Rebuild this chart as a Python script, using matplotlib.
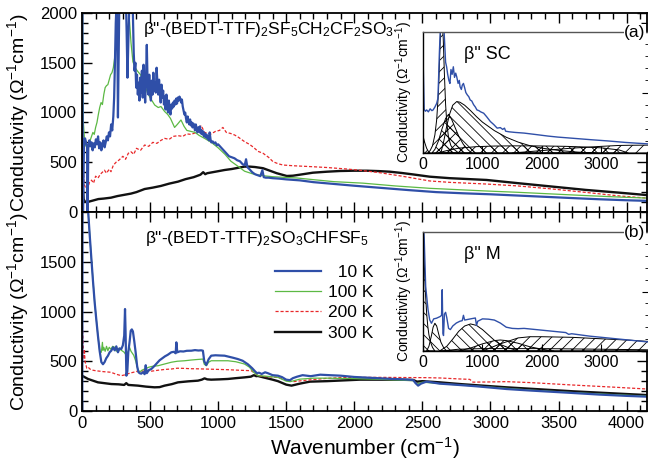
import matplotlib
matplotlib.use("Agg")
import matplotlib.pyplot as plt
from matplotlib.ticker import MultipleLocator, NullFormatter

plt.rcParams['font.family'] = ['Liberation Sans', 'DejaVu Sans']
plt.rcParams['mathtext.fontset'] = 'custom'
plt.rcParams['mathtext.rm'] = 'Liberation Sans'
plt.rcParams['mathtext.it'] = 'Liberation Sans:italic'
plt.rcParams['hatch.linewidth'] = 0.6

# ---------------- data: top panel (SF5CH2CF2SO3) ----------------
top_10K_x = [2, 7, 14, 22, 30, 37, 41, 46, 54, 62, 70, 78, 86, 94, 102, 110, 118, 126, 134, 142, 150, 158, 166, 174, 182, 190, 198, 206, 214, 222, 230, 236, 242, 248, 254, 260, 264, 268, 274, 282, 290, 300, 310, 320, 328, 334, 340, 348, 356, 364, 372,
             380, 386, 392, 398, 404, 410, 416, 422, 428, 434, 440, 446, 452, 458, 464, 470, 476, 482, 488, 494, 500, 506, 512, 518, 524, 530, 536, 542, 548, 554, 560, 566, 572, 578, 584, 590, 596, 602, 608, 614, 620, 626, 632, 638, 644, 650, 656, 662, 668, 674, 680, 686, 692, 698, 704, 710, 716, 722, 728, 734, 740, 746, 752, 758, 764, 770, 776, 782, 788, 794, 800, 806, 812, 818, 824, 830, 836, 842, 848, 854, 860, 866, 872, 878, 884, 890, 896, 902, 908, 914, 920, 926, 932, 938, 944, 950, 960, 970, 980, 990, 1000,
             1020, 1040, 1060, 1080, 1100, 1120, 1140, 1160, 1180, 1195, 1205, 1215, 1230, 1250, 1270, 1290, 1310, 1325, 1335, 1350, 1370, 1400, 1450, 1500, 1600, 1700, 1800, 1900, 2000, 2200, 2400, 2600, 2800, 3000, 3200, 3400, 3600, 3800, 4000, 4150]
top_10K_y = [2500, -100, 650, 740, 700, 660, -100, 640, 720, 660, 700, 620, 690, 650, 730, 680, 760, 640, 700, 620, 680, 720, 650, 700, 760, 720, 800, 760, 880, 820, 960, 1150, 1500, 1900, 2100, 1700, 950, 1400, 2100, 2300, 2200, 2400, 2200, 2300, 1800, 1350, 1700, 2100, 2200, 2000, 2100,
             1600, 1420, 1500, 1250, 1380, 1180, 1300, 1120, 1350, 1200, 1420, 1150, 1480, 1250, 1100, 1350, 1680, 1280, 1180, 1380, 1200, 1120, 1320, 1180, 1400, 1220, 1300, 1200, 1450, 1300, 1180, 1330, 1220, 1100, 1280, 1150, 1220, 1080, 1160, 1030, 1180, 1050, 1000, 1120, 1020, 980, 1080, 1040, 1100, 1060, 1120, 1080, 1140, 1090, 1150, 1120, 1160, 1140, 1100, 1130, 1060, 1020, 980, 1000, 940, 900, 960, 910, 880, 930, 870, 900, 850, 890, 860, 820, 880, 840, 800, 850, 810, 860, 790, 820, 780, 810, 760, 790, 750, 780, 740, 760, 720, 800, 730, 700, 710, 690, 700, 670, 680,
             650, 620, 590, 560, 550, 540, 520, 510, 480, 470, 530, 450, 430, 400, 380, 370, 360, 420, 350, 345, 345, 340, 335, 328, 318, 300, 288, 276, 264, 242, 220, 200, 188, 178, 165, 153, 140, 128, 118, 112]

top_100K_x = [3, 10, 20, 30, 45, 60, 70, 80, 90, 100, 110, 120, 130, 140, 150, 160, 170, 180, 190, 200, 210, 220, 230, 240, 250, 260, 270, 280, 290, 300, 320, 340, 350, 360, 374, 390, 411, 430, 460, 480, 500, 534, 560, 580, 607, 630, 650, 680, 700, 727, 750, 770, 800, 830, 860, 900, 950, 1000, 1050, 1094, 1150, 1194, 1250, 1292, 1350, 1400, 1500, 1577, 1700, 1850, 2063, 2300, 2554, 2800, 2972, 3200, 3457, 3700, 3950, 4150]
top_100K_y = [2200, 900, 700, 660, 650, 720, 760, 800, 780, 850, 900, 980, 1050, 1100, 1080, 1180, 1250, 1270, 1280, 1330, 1380, 1400, 1450, 1550, 1700, 1850, 1950, 2100, 2200, 2300, 2200, 2100, 1900, 1700, 1510, 1450, 1410, 1380, 1280, 1200, 1150, 1075, 1050, 1060, 1010, 980, 940, 850, 880, 925, 860, 820, 810, 800, 770, 740, 700, 645, 580, 510, 455, 410, 385, 372, 362, 355, 347, 342, 325, 305, 290, 262, 238, 222, 211, 198, 181, 165, 150, 140]

top_200K_x = [3, 8, 15, 25, 35, 44, 55, 70, 85, 100, 117, 135, 150, 165, 180, 200, 213, 230, 250, 270, 286, 300, 320, 340, 360, 380, 400, 430, 460, 490, 520, 550, 580, 607, 640, 670, 705, 740, 770, 800, 827, 850, 875, 900, 925, 947, 980, 1010, 1035, 1060, 1090, 1121, 1150, 1194, 1230, 1260, 1292, 1330, 1370, 1403, 1440, 1477, 1550, 1696, 1800, 1945, 2050, 2187, 2350, 2554, 2700, 2972, 3200, 3457, 3700, 3949, 4150]
top_200K_y = [780, 500, 280, 250, 270, 250, 300, 320, 290, 360, 340, 380, 400, 420, 390, 430, 405, 470, 500, 520, 540, 560, 530, 590, 605, 580, 640, 620, 673, 660, 700, 690, 720, 740, 730, 760, 767, 760, 785, 780, 793, 800, 870, 800, 790, 784, 810, 820, 850, 800, 790, 774, 750, 707, 680, 650, 610, 590, 550, 506, 485, 472, 465, 455, 447, 432, 418, 395, 360, 312, 298, 281, 262, 231, 197, 161, 140]

top_300K_x = [2, 6, 12, 20, 40, 80, 120, 160, 213, 260, 300, 360, 400, 460, 520, 580, 640, 705, 760, 820, 870, 890, 905, 920, 960, 1000, 1047, 1100, 1150, 1194, 1233, 1270, 1330, 1380, 1430, 1504, 1550, 1600, 1696, 1800, 1894, 2000, 2092, 2180, 2261, 2350, 2430, 2554, 2700, 2972, 3200, 3457, 3700, 3949, 4150]
top_300K_y = [600, 250, 130, 105, 100, 115, 130, 135, 144, 160, 170, 185, 200, 231, 245, 262, 285, 305, 330, 350, 375, 400, 380, 390, 400, 410, 422, 432, 445, 456, 456, 452, 440, 415, 390, 362, 365, 375, 395, 405, 412, 415, 415, 411, 405, 392, 378, 355, 340, 322, 290, 255, 222, 194, 170]

# ---------------- data: bottom panel (SO3CHFSF5) ----------------
bot_10K_x = [2, 4, 44, 56, 69, 81, 93, 105, 117, 130, 142, 154, 166, 178, 191, 203, 215, 228, 240, 252, 264, 276, 289, 300, 310, 316, 320, 326, 333, 340, 350, 358, 366, 374, 384, 394, 405, 414, 423, 435, 448, 460, 468, 476, 490, 509, 530, 550, 570, 590, 610, 630, 656, 675, 688, 693, 700, 720, 745, 770, 803, 830, 855, 875, 888, 898, 913, 930, 949, 980, 1010, 1047, 1080, 1110, 1145, 1180, 1218, 1250, 1270, 1285, 1300, 1320, 1345, 1365, 1400, 1439, 1470, 1500, 1527, 1549, 1580, 1620, 1680, 1750, 1820, 1900, 2000, 2100, 2200, 2285, 2360, 2432, 2450, 2469, 2490, 2530, 2628, 2775, 2900, 3117, 3300, 3606, 3800, 4000, 4150]
bot_10K_y = [0, 2300, 2030, 1780, 1528, 1300, 1092, 920, 757, 600, 492, 470, 492, 530, 556, 590, 606, 640, 610, 650, 590, 630, 623, 660, 757, 1025, 800, 355, 400, 590, 700, 807, 820, 800, 700, 590, 450, 392, 380, 375, 390, 370, 460, 380, 410, 422, 450, 480, 510, 530, 550, 565, 590, 595, 580, 690, 590, 600, 598, 605, 606, 612, 608, 610, 606, 500, 462, 520, 556, 560, 558, 556, 545, 535, 522, 505, 470, 430, 400, 380, 385, 372, 389, 380, 360, 355, 340, 315, 310, 330, 345, 360, 350, 365, 360, 355, 342, 335, 328, 322, 318, 312, 280, 255, 275, 295, 275, 261, 248, 221, 205, 181, 165, 152, 144]

bot_100K_x = [4, 44, 69, 93, 117, 130, 142, 150, 154, 160, 170, 180, 190, 200, 213, 225, 240, 252, 264, 276, 289, 300, 310, 325, 340, 350, 360, 370, 380, 395, 410, 423, 440, 460, 490, 520, 558, 600, 656, 700, 754, 800, 850, 888, 898, 913, 930, 949, 1000, 1072, 1130, 1194, 1230, 1260, 1292, 1350, 1439, 1500, 1530, 1600, 1700, 1800, 2000, 2200, 2432, 2460, 2500, 2628, 2775, 3000, 3300, 3606, 3900, 4150]
bot_100K_y = [2300, 2030, 1528, 1092, 757, 600, 590, 690, 610, 640, 600, 650, 606, 640, 620, 650, 640, 600, 630, 623, 610, 600, 590, 560, 600, 637, 600, 580, 560, 500, 420, 390, 410, 422, 440, 450, 455, 470, 490, 500, 505, 512, 518, 522, 470, 455, 490, 505, 505, 505, 495, 472, 440, 390, 355, 350, 338, 300, 295, 320, 330, 330, 325, 318, 305, 270, 290, 275, 262, 240, 210, 185, 165, 150]

bot_200K_x = [3, 8, 13, 18, 22, 28, 35, 45, 60, 80, 100, 130, 160, 190, 213, 250, 289, 320, 350, 380, 423, 460, 509, 560, 610, 656, 700, 754, 800, 850, 900, 950, 1000, 1072, 1150, 1243, 1270, 1292, 1350, 1439, 1500, 1551, 1650, 1796, 1900, 2041, 2200, 2400, 2530, 2628, 2775, 2848, 2872, 3000, 3117, 3300, 3606, 3900, 4150]
bot_200K_y = [860, 700, 520, 620, 500, 470, 430, 440, 420, 410, 405, 400, 395, 392, 389, 370, 355, 365, 380, 390, 405, 400, 400, 410, 418, 422, 430, 428, 425, 424, 422, 420, 418, 415, 410, 405, 380, 355, 345, 338, 310, 295, 310, 328, 335, 338, 338, 336, 335, 332, 322, 318, 290, 292, 295, 285, 261, 240, 221]

bot_300K_x = [0, 44, 117, 215, 270, 310, 325, 340, 411, 470, 533, 570, 607, 660, 705, 780, 852, 880, 900, 920, 949, 1010, 1072, 1130, 1194, 1240, 1262, 1280, 1292, 1341, 1400, 1439, 1500, 1539, 1600, 1674, 1800, 2041, 2285, 2432, 2460, 2500, 2628, 2775, 3117, 3606, 4150]
bot_300K_y = [355, 322, 288, 271, 268, 262, 280, 262, 255, 245, 238, 240, 255, 270, 288, 298, 305, 315, 328, 318, 315, 318, 322, 330, 338, 345, 360, 350, 352, 335, 315, 300, 265, 255, 275, 295, 300, 315, 315, 312, 295, 300, 288, 271, 238, 198, 160]

# ---------------- inset (a): SC, 10 K spectrum and fit components ----------------
insA_x = [0, 5, 20, 40, 62, 90, 120, 150, 170, 200, 230, 250, 261, 275, 289, 300, 310, 320, 335, 350, 365, 380, 397, 415, 435, 453, 470, 490, 510, 530, 550, 567, 590, 610, 623, 645, 660, 680, 700, 720, 745, 770, 793, 820, 850, 880, 907, 940, 970, 1020, 1070, 1133, 1190, 1247, 1300, 1340, 1370, 1390, 1450, 1550, 1700, 1900, 2100, 2267, 2500, 2833, 3100, 3400, 3600, 3800]
insA_y = [2300, 1400, 720, 690, 712, 680, 730, 700, 712, 760, 820, 900, 1200, 1644, 2000, 2200, 2100, 2300, 2200, 2100, 1800, 1500, 1425, 1300, 1200, 1150, 1380, 1300, 1425, 1250, 1320, 1260, 1150, 1200, 1096, 1050, 1120, 1150, 1080, 1000, 960, 930, 877, 860, 800, 760, 712, 700, 680, 658, 600, 520, 470, 411, 420, 390, 411, 360, 350, 340, 329, 305, 280, 263, 245, 219, 200, 175, 162, 150]
insA_c1_x = [0, 30, 60, 90, 120]
insA_c1_y = [280, 170, 80, 25, 0]
insA_c2_x = [80, 120, 160, 200, 230, 260, 280, 300, 320, 340, 360, 380, 400, 430, 470, 520, 600]
insA_c2_y = [0, 40, 120, 300, 550, 1000, 1600, 2100, 2200, 1900, 1300, 800, 500, 250, 120, 60, 0]
insA_c3_x = [150, 200, 260, 320, 380, 430, 480, 540, 600, 680, 760, 820]
insA_c3_y = [0, 60, 200, 400, 570, 640, 560, 420, 280, 140, 50, 0]
insA_c4_x = [300, 350, 400, 450, 500, 567, 620, 700, 800, 900, 1000, 1200, 1400, 1600, 1800, 2000, 2300, 2600, 2900]
insA_c4_y = [0, 200, 450, 650, 790, 850, 840, 790, 700, 600, 510, 370, 260, 180, 120, 80, 40, 15, 0]
insA_c5_x = [250, 400, 600, 900, 1200, 1500, 1800, 2100, 2400, 2700, 3000, 3300, 3450]
insA_c5_y = [0, 40, 80, 105, 115, 118, 118, 115, 110, 100, 85, 50, 0]
insA_c6_x = [1500, 2000, 2500, 3000, 3300, 3500, 3800]
insA_c6_y = [0, 40, 80, 110, 125, 128, 130]

# ---------------- inset (b): M, 10 K spectrum and fit components ----------------
insB_x = [0, 20, 45, 85, 113, 142, 180, 227, 290, 312, 323, 335, 345, 360, 380, 400, 430, 460, 500, 560, 620, 660, 680, 700, 800, 880, 900, 920, 1000, 1100, 1200, 1300, 1400, 1500, 1600, 1700, 2000, 2300, 2400, 2450, 2500, 2800, 3200, 3600, 3800]
insB_y = [2300, 1900, 1084, 691, 522, 466, 540, 551, 580, 600, 1030, 300, 260, 620, 650, 560, 380, 360, 420, 470, 500, 510, 600, 520, 540, 555, 430, 500, 540, 535, 520, 470, 400, 380, 375, 380, 350, 320, 310, 280, 290, 250, 210, 170, 150]
insB_c1_x = [0, 20, 40, 60, 80, 100, 130, 160, 200]
insB_c1_y = [2200, 1500, 1000, 650, 420, 270, 140, 60, 0]
insB_c2_x = [60, 100, 140, 170, 200, 230, 260, 300, 350, 400]
insB_c2_y = [0, 80, 250, 400, 466, 420, 300, 150, 50, 0]
insB_c3_x = [280, 400, 500, 600, 700, 800, 900, 1000, 1100, 1200, 1300, 1450, 1600]
insB_c3_y = [0, 80, 200, 330, 420, 455, 430, 360, 270, 180, 110, 50, 0]
insB_c4_x = [600, 800, 1000, 1200, 1300, 1400, 1600, 1800, 2000, 2200]
insB_c4_y = [0, 50, 120, 175, 185, 175, 130, 70, 30, 0]
insB_c5_x = [1000, 1300, 1600, 1800, 2000, 2500, 3000, 3500, 3800]
insB_c5_y = [0, 120, 220, 240, 240, 230, 205, 180, 160]
insB_c6_x = [300, 600, 1000, 2000, 3000, 3800]
insB_c6_y = [0, 30, 40, 40, 30, 20]

legend_labels = ["  10 K", "100 K", "200 K", "300 K"]
title_top = r'β"-(BEDT-TTF)$_2$SF$_5$CH$_2$CF$_2$SO$_3$'
title_bot = r'β"-(BEDT-TTF)$_2$SO$_3$CHFSF$_5$'
ylabel = r'Conductivity ($\Omega^{-1}$cm$^{-1}$)'

# ---------------- styles ----------------
C_BLUE = '#2f4fa8'
C_GREEN = '#5cb944'
C_RED = '#e8282a'
C_BLACK = '#111111'

fig = plt.figure(figsize=(6.48, 4.68), dpi=100)
W, H = 648.0, 468.0
ax1 = fig.add_axes([82 / W, 1 - 212 / H, 565 / W, 199 / H])
ax2 = fig.add_axes([82 / W, 1 - 411 / H, 565 / W, 199 / H])


def style_main(ax, show_x):
    ax.set_xlim(0, 4150)
    ax.set_ylim(0, 2000)
    ax.xaxis.set_major_locator(MultipleLocator(500))
    ax.xaxis.set_minor_locator(MultipleLocator(100))
    ax.yaxis.set_major_locator(MultipleLocator(500))
    ax.yaxis.set_minor_locator(MultipleLocator(100))
    ax.tick_params(which='both', direction='in', top=True, right=True, labelsize=12, width=1.0)
    ax.tick_params(which='major', length=7)
    ax.tick_params(which='minor', length=4)
    if not show_x:
        ax.xaxis.set_major_formatter(NullFormatter())
    for s in ax.spines.values():
        s.set_linewidth(1.3)
    ax.set_ylabel(ylabel, fontsize=14)
    ax.yaxis.set_label_coords((31 - 82) / 565, 0.5)


def draw_set(ax, xs, ys):
    (x10, y10), (x100, y100), (x200, y200), (x300, y300) = zip(xs, ys)
    h300, = ax.plot(x300, y300, color=C_BLACK, lw=1.7)
    h200, = ax.plot(x200, y200, color=C_RED, lw=0.9, ls=(0, (2.5, 1.5)))
    h100, = ax.plot(x100, y100, color=C_GREEN, lw=0.9)
    h10, = ax.plot(x10, y10, color=C_BLUE, lw=1.6)
    return [h10, h100, h200, h300]


draw_set(ax1, [top_10K_x, top_100K_x, top_200K_x, top_300K_x],
         [top_10K_y, top_100K_y, top_200K_y, top_300K_y])
hs = draw_set(ax2, [bot_10K_x, bot_100K_x, bot_200K_x, bot_300K_x],
              [bot_10K_y, bot_100K_y, bot_200K_y, bot_300K_y])
style_main(ax1, False)
style_main(ax2, True)
ax2.set_yticks([0, 500, 1000, 1500])
ax2.set_xlabel(r'Wavenumber (cm$^{-1}$)', fontsize=15, labelpad=3)

ax1.text((143 - 82) / 565, (212 - 30) / 199, title_top, transform=ax1.transAxes,
         fontsize=12.5, va='center', ha='left')
ax2.text((145 - 82) / 565, (412 - 240) / 199, title_bot, transform=ax2.transAxes,
         fontsize=12.5, va='center', ha='left')

ax2.legend(hs, legend_labels, loc='upper left', bbox_to_anchor=((272 - 82) / 565, (412 - 262) / 199),
           frameon=False, fontsize=12.5, handlelength=2.6, handletextpad=0.4, labelspacing=0.3,
           borderpad=0.2, borderaxespad=0)

# ---------------- insets ----------------
insA = fig.add_axes([423 / W, 1 - 153 / H, 226 / W, 121 / H])
insB = fig.add_axes([423 / W, 1 - 351 / H, 226 / W, 119 / H])


def hatch_fill(ax, x, y, hatch):
    ax.fill_between(x, 0, y, facecolor='none', edgecolor='black', hatch=hatch, lw=0.7)


for ax, comps in [
    (insA, [(insA_c5_x, insA_c5_y, 'xxx'), (insA_c6_x, insA_c6_y, '///'),
            (insA_c4_x, insA_c4_y, '\\\\\\'), (insA_c3_x, insA_c3_y, 'xxx'),
            (insA_c2_x, insA_c2_y, '///'), (insA_c1_x, insA_c1_y, '///')]),
    (insB, [(insB_c6_x, insB_c6_y, 'xxx'), (insB_c5_x, insB_c5_y, '///'),
            (insB_c4_x, insB_c4_y, 'xxx'), (insB_c3_x, insB_c3_y, '\\\\\\'),
            (insB_c2_x, insB_c2_y, '\\\\\\'), (insB_c1_x, insB_c1_y, '\\\\\\')]),
]:
    for cx, cy, h in comps:
        hatch_fill(ax, cx, cy, h)

insA.plot(insA_x, insA_y, color=C_BLUE, lw=1.0)
insB.plot(insB_x, insB_y, color=C_BLUE, lw=1.0)

for ax, lab, tag in [(insA, 'β" SC', '(a)'), (insB, 'β" M', '(b)')]:
    ax.set_xlim(0, 3800)
    ax.set_ylim(0, 2000)
    ax.set_xticks([0, 1000, 2000, 3000])
    ax.xaxis.set_minor_locator(MultipleLocator(250))
    ax.yaxis.set_minor_locator(MultipleLocator(200))
    ax.yaxis.set_major_locator(MultipleLocator(1000))
    ax.tick_params(which='both', direction='in', left=False, right=True, top=False,
                   labelleft=False, labelsize=11.5, pad=3)
    ax.tick_params(which='major', length=5)
    ax.tick_params(which='minor', length=3)
    ax.tick_params(axis='x', which='minor', length=0)
    for s in ax.spines.values():
        s.set_linewidth(1.0)
    ax.spines['top'].set_color('#555555')
    ax.set_ylabel(ylabel, fontsize=10)
    ax.yaxis.set_label_coords((415 - 423) / 226, 0.5)
    ax.text(0.18, 0.81, lab, transform=ax.transAxes, fontsize=13, va='center', ha='left')
    ax.text(0.985, 1.0, tag, transform=ax.transAxes, fontsize=12.5, va='center', ha='right',
            bbox=dict(facecolor='white', edgecolor='none', pad=0.5))

fig.savefig('out.png', dpi=100)
